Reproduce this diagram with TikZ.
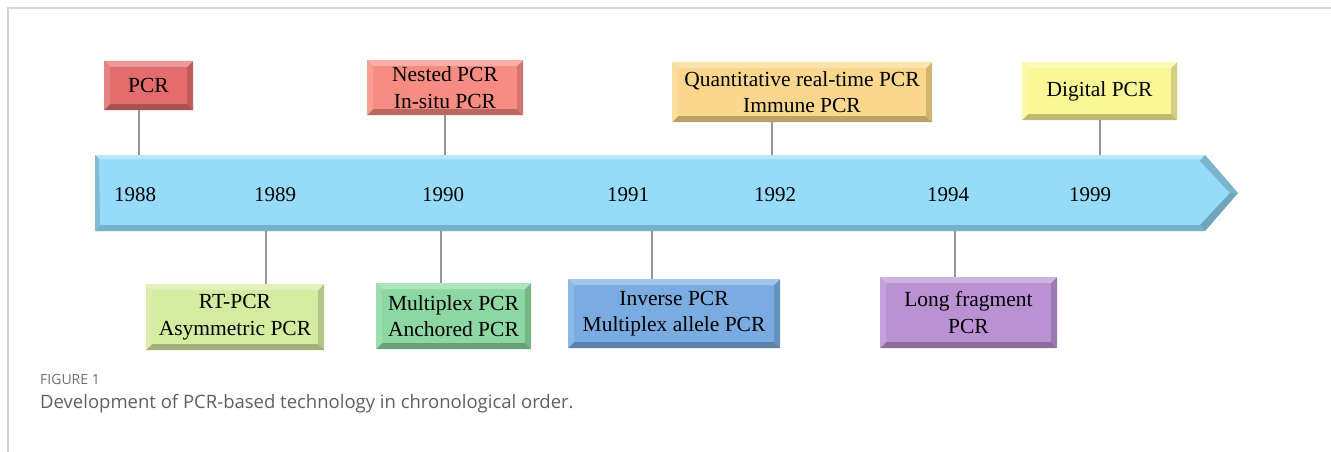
\documentclass[tikz,border=0pt]{standalone}
\usepackage{fontspec}
\setmainfont{Liberation Serif}
\newfontfamily\capfont{Open Sans}
\definecolor{cpcr}{RGB}{228,108,108}
\definecolor{cnest}{RGB}{248,140,130}
\definecolor{cquant}{RGB}{250,215,140}
\definecolor{cdig}{RGB}{250,248,150}
\definecolor{crt}{RGB}{213,235,160}
\definecolor{cmul}{RGB}{140,215,162}
\definecolor{cinv}{RGB}{122,172,226}
\definecolor{clong}{RGB}{186,146,212}
\definecolor{carrow}{RGB}{150,220,250}
\definecolor{cline}{RGB}{150,150,150}
\definecolor{cframe}{RGB}{212,212,212}
\definecolor{ccap}{RGB}{95,95,95}
\tikzset{
  bevelbox/.style={fill=#1, inner sep=0pt, align=center,
    font=\fontsize{21.5}{26.5}\selectfont,
    path picture={
      \fill[#1!75!black] (path picture bounding box.south west) -- (path picture bounding box.south east)
        -- ([shift={(-6pt,6pt)}]path picture bounding box.south east) -- ([shift={(6pt,6pt)}]path picture bounding box.south west) -- cycle;
      \fill[#1!84!black] (path picture bounding box.south east) -- (path picture bounding box.north east)
        -- ([shift={(-6pt,-6pt)}]path picture bounding box.north east) -- ([shift={(-6pt,6pt)}]path picture bounding box.south east) -- cycle;
      \fill[#1!70!white] (path picture bounding box.north west) -- (path picture bounding box.north east)
        -- ([shift={(-6pt,-6pt)}]path picture bounding box.north east) -- ([shift={(6pt,-6pt)}]path picture bounding box.north west) -- cycle;
      \fill[#1!85!white] (path picture bounding box.north west) -- (path picture bounding box.south west)
        -- ([shift={(6pt,6pt)}]path picture bounding box.south west) -- ([shift={(6pt,-6pt)}]path picture bounding box.north west) -- cycle;
    }},
  year/.style={font=\fontsize{21}{24}\selectfont, inner sep=0pt},
  link/.style={draw=cline, line width=1.1pt},
}
\begin{document}
\begin{tikzpicture}[x=1pt, y=-1pt]
\useasboundingbox (0,0) rectangle (1331,452);
% frame
\draw[cframe, line width=1.4pt] (8,452) -- (8,8) -- (1331,8);
% arrow
\fill[carrow] (95,155) -- (1205,155) -- (1238,193) -- (1205,231) -- (95,231) -- cycle;
\fill[carrow!80!black] (95,231) -- (1205,231) -- (1200,225) -- (100,225) -- cycle;
\fill[carrow!75!black] (1205,231) -- (1238,193) -- (1230,193) -- (1200,225) -- cycle;
\fill[carrow!82!black] (1205,155) -- (1238,193) -- (1230,193) -- (1200,161) -- cycle;
\fill[carrow!70!white] (95,155) -- (1205,155) -- (1200,159) -- (99,159) -- cycle;
\fill[carrow!85!black] (95,155) -- (99,159) -- (100,225) -- (95,231) -- cycle;
% years
\node[year] (y88) at (135,195) {1988};
\node[year] (y89) at (275,195) {1989};
\node[year] (y90) at (443,195) {1990};
\node[year] (y91) at (628,195) {1991};
\node[year] (y92) at (775,195) {1992};
\node[year] (y94) at (948,195) {1994};
\node[year] (y99) at (1090,195) {1999};
% boxes above
\node[bevelbox=cpcr, minimum width=89pt, minimum height=49pt] (pcr) at (148.5,85.5) {PCR};
\node[bevelbox=cnest, minimum width=156pt, minimum height=55pt] (nest) at (445,87.5) {Nested PCR\\In-situ PCR};
\node[bevelbox=cquant, minimum width=260pt, minimum height=60pt] (quant) at (802,92) {Quantitative real-time PCR\\Immune PCR};
\node[bevelbox=cdig, minimum width=155pt, minimum height=58pt] (dig) at (1099.5,91) {Digital PCR};
% boxes below
\node[bevelbox=crt, minimum width=178pt, minimum height=66pt] (rt) at (235,317) {RT-PCR\\Asymmetric PCR};
\node[bevelbox=cmul, minimum width=155pt, minimum height=66pt] (mul) at (453.5,316) {Multiplex PCR\\Anchored PCR};
\node[bevelbox=cinv, minimum width=212pt, minimum height=69pt] (inv) at (674,313.5) {Inverse PCR\\Multiplex allele PCR};
\node[bevelbox=clong, minimum width=177pt, minimum height=71pt] (long) at (968.5,312.5) {Long fragment\\PCR};
% connector ends on the arrow
\coordinate (a1) at (139,155);
\coordinate (a2) at (445,155);
\coordinate (a3) at (772,155);
\coordinate (a4) at (1100,155);
\coordinate (b1) at (266,231);
\coordinate (b2) at (441,231);
\coordinate (b3) at (652,231);
\coordinate (b4) at (955,231);
\draw[link] (a1 |- pcr.south) -- (a1);
\draw[link] (a2 |- nest.south) -- (a2);
\draw[link] (a3 |- quant.south) -- (a3);
\draw[link] (a4 |- dig.south) -- (a4);
\draw[link] (b1 |- rt.north) -- (b1);
\draw[link] (b2 |- mul.north) -- (b2);
\draw[link] (b3 |- inv.north) -- (b3);
\draw[link] (b4 |- long.north) -- (b4);
% caption
\node[anchor=west, inner sep=0pt, text=ccap!90!white, font=\capfont\fontsize{14}{16}\selectfont] (figlab) at (40,379) {FIGURE 1};
\node[anchor=west, inner sep=0pt, text=ccap, font=\capfont\fontsize{18.5}{22}\selectfont] (figcap) at (40,404) {Development of PCR-based technology in chronological order.};
\end{tikzpicture}
\end{document}
